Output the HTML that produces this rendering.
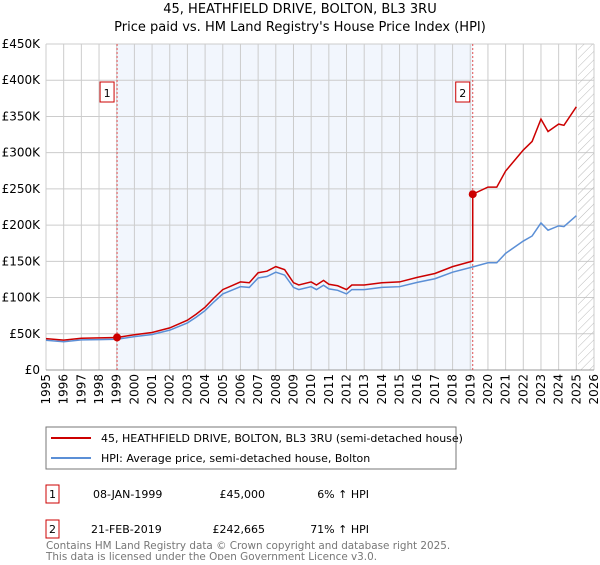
<!DOCTYPE html>
<html><head><meta charset="utf-8"><style>
body{margin:0;background:#fff;font-family:"Liberation Sans","DejaVu Sans",sans-serif;}
</style></head><body>
<svg id="c" width="600" height="560" xmlns="http://www.w3.org/2000/svg" font-family="DejaVu Sans, Liberation Sans, sans-serif">
<text x="300" y="13" text-anchor="middle" font-size="13">45, HEATHFIELD DRIVE, BOLTON, BL3 3RU</text>
<text x="300" y="31" text-anchor="middle" font-size="13">Price paid vs. HM Land Registry's House Price Index (HPI)</text>
<g id="plot"></g>
<g>
<rect x="46" y="427" width="410" height="42" fill="#fff" stroke="#777"/>
<line x1="51" y1="438" x2="91" y2="438" stroke="#cc0000" stroke-width="2"/>
<text x="101" y="442" font-size="11">45, HEATHFIELD DRIVE, BOLTON, BL3 3RU (semi-detached house)</text>
<line x1="51" y1="458" x2="91" y2="458" stroke="#5b8fd6" stroke-width="2"/>
<text x="101" y="462" font-size="11">HPI: Average price, semi-detached house, Bolton</text>
</g>
<g font-size="11">
<rect x="46" y="485" width="13" height="18" fill="none" stroke="#cc0000"/><text x="52.5" y="498" text-anchor="middle">1</text>
<text x="93" y="498">08-JAN-1999</text><text x="265" y="498" text-anchor="end">£45,000</text><text x="369" y="498" text-anchor="end">6% ↑ HPI</text>
<rect x="46" y="520" width="13" height="18" fill="none" stroke="#cc0000"/><text x="52.5" y="533" text-anchor="middle">2</text>
<text x="91" y="533">21-FEB-2019</text><text x="265" y="533" text-anchor="end">£242,665</text><text x="369" y="533" text-anchor="end">71% ↑ HPI</text>
</g>
<text x="46" y="549" font-size="10.4" fill="#777">Contains HM Land Registry data © Crown copyright and database right 2025.</text>
<text x="46" y="560" font-size="10.4" fill="#777">This data is licensed under the Open Government Licence v3.0.</text>
</svg>
<script>
const hpiYears=[1995,1996,1997,1998,1999,2000,2001,2002,2003,2003.5,2004,2004.5,2005,2005.5,2006,2006.5,2007,2007.5,2008,2008.5,2009,2009.3,2010,2010.3,2010.7,2011,2011.5,2012,2012.3,2013,2014,2015,2016,2017,2018,2019.1,2020,2020.5,2021,2022,2022.5,2023,2023.4,2024,2024.3,2025];
const hpiValues=[41,39,41.5,42,42.5,46,49,55,65,73,82,94,105,110,115,114,127,129,135,131,114,111,115,111,117,112,110,105,111,111,114,115,121,126,135,142,148,148,161,178,185,203,193,199,198,213];
const saleDates=[1999.02,2019.14];
const salePrices=[45,242.665];
const saleLabels=["1","2"];
const yTicks=[0,50,100,150,200,250,300,350,400,450];
const yTickLabels=["£0","£50K","£100K","£150K","£200K","£250K","£300K","£350K","£400K","£450K"];
const xTicks=[];for(let y=1995;y<=2026;y++)xTicks.push(y);
const X0=46,X1=594,Y0=370,Y1=44;
const x=v=>X0+(v-1995)/(2026-1995)*(X1-X0);
const y=v=>Y0-v/450*(Y0-Y1);
const NS="http://www.w3.org/2000/svg";
const g=document.getElementById('plot');
function mk(t,a){const e=document.createElementNS(NS,t);for(const k in a)e.setAttribute(k,a[k]);g.appendChild(e);return e;}
let e;
e=mk('rect',{x:x(saleDates[0]),y:Y1,width:x(saleDates[1])-x(saleDates[0]),height:Y0-Y1,fill:'#f2f6fd'});


xTicks.forEach((t,i)=>{
 e=mk('line',{x1:x(t),x2:x(t),y1:Y1,y2:Y0,stroke:'#ccc','stroke-width':1});
 
 
 e=mk('text',{x:0,y:0,'font-size':12,'text-anchor':'end',transform:`translate(${x(t)+4},${Y0+4}) rotate(-90)`});
 e.textContent=t;
 
 
});
yTicks.forEach((t,i)=>{
 e=mk('line',{x1:X0,x2:X1,y1:y(t),y2:y(t),stroke:'#ccc','stroke-width':1});
 
 
 e=mk('text',{x:X0-6,y:y(t)+4,'font-size':12,'text-anchor':'end'});
 e.textContent=yTickLabels[i];
 
 
});
const defs=mk('defs',{});
defs.innerHTML='<pattern id="h" width="6" height="6" patternUnits="userSpaceOnUse" patternTransform="rotate(45)"><line x1="0" y1="0" x2="0" y2="6" stroke="#bbb" stroke-width="1"/></pattern>';
e=mk('rect',{x:x(2025.1),y:Y1,width:X1-x(2025.1),height:Y0-Y1,fill:'url(#h)'});


e=mk('line',{x1:X0,x2:X1,y1:Y0,y2:Y0,stroke:'#999'});


saleDates.forEach((d,i)=>{
 e=mk('line',{x1:x(d),x2:x(d),y1:Y1,y2:Y0,stroke:'#e05050','stroke-dasharray':'2,2'});
 
 
});
function hpiAt(t){for(let i=0;i<hpiYears.length-1;i++){if(t<=hpiYears[i+1]){const f=(t-hpiYears[i])/(hpiYears[i+1]-hpiYears[i]);return hpiValues[i]+f*(hpiValues[i+1]-hpiValues[i]);}}return hpiValues[hpiValues.length-1];}
e=mk('polyline',{points:hpiYears.map((t,i)=>x(t)+','+y(hpiValues[i])).join(' '),fill:'none',stroke:'#5b8fd6','stroke-width':1.5});


const pts=[];
hpiYears.forEach((t,i)=>{
 if(t<saleDates[1]){pts.push([t,salePrices[0]*hpiValues[i]/hpiAt(saleDates[0])]);}
});
pts.push([saleDates[1],salePrices[0]*hpiAt(saleDates[1])/hpiAt(saleDates[0])]);
pts.push([saleDates[1],salePrices[1]]);
hpiYears.forEach((t,i)=>{if(t>saleDates[1])pts.push([t,salePrices[1]*hpiValues[i]/hpiAt(saleDates[1])]);});
e=mk('polyline',{points:pts.map(p=>x(p[0])+','+y(p[1])).join(' '),fill:'none',stroke:'#cc0000','stroke-width':1.5});


saleDates.forEach((d,i)=>{
 e=mk('circle',{cx:x(d),cy:y(salePrices[i]),r:4,fill:'#cc0000'});
 
 
 e=mk('rect',{x:x(d)-17,y:82,width:14,height:20,fill:'#fff',stroke:'#cc0000'});
 
 
 e=mk('text',{x:x(d)-10,y:97,'font-size':11,'text-anchor':'middle'});
 e.textContent=saleLabels[i];
 
 
});
</script>
</body></html>
